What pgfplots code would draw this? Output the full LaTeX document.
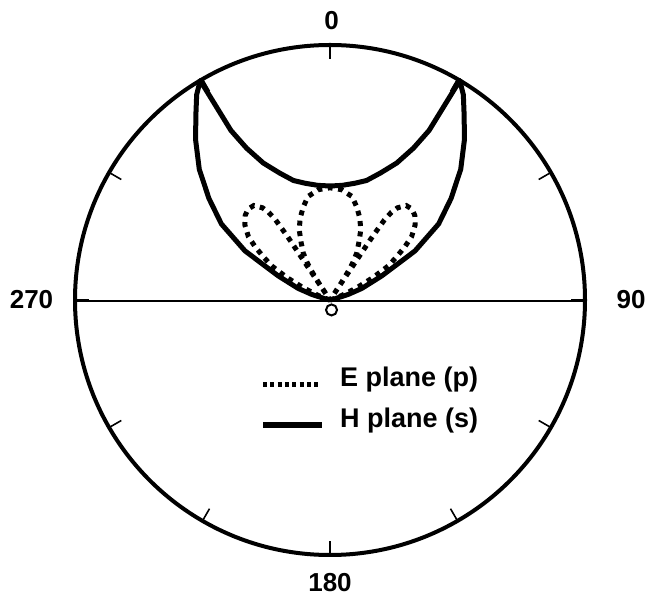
\documentclass[border=0pt]{standalone}
\usepackage{pgfplots}
\pgfplotsset{compat=1.18}
\usepackage{pgfplotstable}
\usepackage{fontspec}
\setmainfont{Liberation Sans}

% Angle (deg, clockwise from the top) and normalised intensity
\pgfplotstableread{
t r
-90 0
-80 0
-76 0.02
-73 0.075
-70 0.133
-65 0.225
-60 0.385
-55 0.52
-50 0.62
-45 0.725
-40 0.82
-36 0.895
-33 0.96
-30.6 1.0
-30.3 0.77
-28.8 0.68
-26 0.598
-23.5 0.56
-21.5 0.534
-17 0.49
-12 0.468
-6 0.452
0 0.447
6 0.452
12 0.468
17 0.49
21.5 0.534
23.5 0.56
26 0.598
28.8 0.68
30.3 0.77
30.6 1.0
33 0.96
36 0.895
40 0.82
45 0.725
50 0.62
55 0.52
60 0.385
65 0.225
70 0.133
73 0.075
76 0.02
80 0
90 0
}\Hplane

\pgfplotstableread{
t r
-90 0
-75 0
-71 0.03
-68 0.065
-65 0.123
-62.5 0.19
-59.7 0.265
-57 0.312
-54.6 0.36
-52.2 0.405
-48.6 0.445
-45 0.47
-42 0.48
-38.9 0.476
-36.2 0.448
-35 0.42
-34.2 0.38
-33.8 0.3
-33.6 0
-33.3 0.08
-32.5 0.13
-31.5 0.17
-29.7 0.211
-26.5 0.255
-23.7 0.30
-20 0.342
-16 0.38
-12 0.415
-6 0.435
0 0.44
6 0.435
12 0.415
16 0.38
20 0.342
23.7 0.30
26.5 0.255
29.7 0.211
31.5 0.17
32.5 0.13
33.3 0.08
33.6 0
33.8 0.3
34.2 0.38
35 0.42
36.2 0.448
38.9 0.476
42 0.48
45 0.47
48.6 0.445
52.2 0.405
54.6 0.36
57 0.312
59.7 0.265
62.5 0.19
65 0.123
68 0.065
71 0.03
75 0
90 0
}\Eplane

\begin{document}
\begin{tikzpicture}
\useasboundingbox (0,0) rectangle (647bp,598bp);
\tikzset{lbl/.style={font=\fontsize{26bp}{30bp}\selectfont\bfseries, inner sep=0pt}}

% polar frame: outer circle, 0-180 axis line and 30 degree ticks
\draw[line width=4bp] (330bp,298bp) circle[radius=255bp];
\draw[line width=2bp] (75bp,297bp) -- (585bp,297bp);
\foreach \a in {0,30,...,330}
  \draw[line width=1.6bp, shift={(330bp,298bp)}] (90-\a:255bp) -- (90-\a:241bp);

\node[lbl] at (331.5bp,577bp) {0};
\node[lbl] at (631bp,298bp) {90};
\node[lbl] at (330bp,15bp) {180};
\node[lbl] at (31.5bp,298bp) {270};

\begin{axis}[
  at={(0,0)}, anchor=south west,
  scale only axis,
  x=255bp, y=255bp,
  xmin=-1.294118, xmax=1.243137,
  ymin=-1.168627, ymax=1.176471,
  hide axis, clip=false,
]
\addplot[black, line width=5bp, line join=round]
  table[x expr={\thisrow{r}*sin(\thisrow{t})}, y expr={\thisrow{r}*cos(\thisrow{t})}] {\Hplane};
\addplot[black, line width=5bp, line cap=butt, dash pattern=on 5bp off 5.5bp]
  table[x expr={\thisrow{r}*sin(\thisrow{t})}, y expr={\thisrow{r}*cos(\thisrow{t})}] {\Eplane};
\addplot[black, only marks, mark=o, mark size=5.5bp, line width=2bp]
  coordinates {(0.006,-0.039)};
\end{axis}

% key
\draw[line width=5bp, dash pattern=on 4bp off 3.3bp] (263bp,213bp) -- (320bp,213bp);
\node[lbl, anchor=base west, font=\fontsize{27bp}{30bp}\selectfont\bfseries] at (340bp,211bp) {E plane (p)};
\draw[line width=5.5bp] (263bp,173bp) -- (322bp,173bp);
\node[lbl, anchor=base west, font=\fontsize{27bp}{30bp}\selectfont\bfseries] at (340bp,170bp) {H plane (s)};
\end{tikzpicture}
\end{document}
